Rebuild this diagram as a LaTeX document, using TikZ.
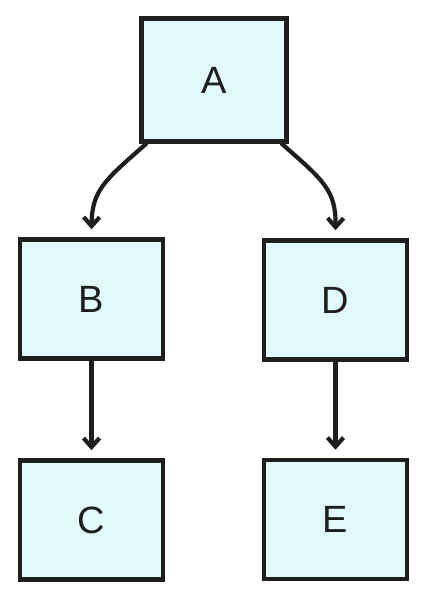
\documentclass[tikz,border=0pt]{standalone}
\usepackage{fontspec}
\setmainfont{Liberation Sans}
\usetikzlibrary{arrows.meta}
\definecolor{boxfill}{RGB}{226,249,251}
\definecolor{ink}{RGB}{30,30,30}
\tikzset{
  box/.style={draw=ink, fill=boxfill, line width=4.5pt, rectangle,
    minimum width=143pt, minimum height=119pt, inner sep=0pt,
    font=\fontsize{38}{40}\selectfont, text=ink},
  conn/.style={draw=ink, line width=4.2pt, line cap=round,
    -{Straight Barb[length=9pt,width=16pt,line width=4.2pt]}}
}
\begin{document}
\begin{tikzpicture}[x=1pt,y=1pt]
\useasboundingbox (0,0) rectangle (427,600);
\node[box, minimum width=145pt, minimum height=123pt] (A) at (214,520) {A};
\node[box] (B) at (91.5,301) {B};
\node[box] (D) at (335.5,300) {D};
\node[box] (C) at (91.5,80) {C};
\node[box] (E) at (335.5,80.5) {E};
\draw[conn] ([xshift=7pt]A.south west) .. controls (105,420) and (92,410) .. ([yshift=8pt]B.north);
\draw[conn] ([xshift=-7pt]A.south east) .. controls (323,420) and (336,410) .. ([yshift=8pt]D.north);
\draw[conn] (B.south) -- ([yshift=8pt]C.north);
\draw[conn] (D.south) -- ([yshift=8pt]E.north);
\end{tikzpicture}
\end{document}
